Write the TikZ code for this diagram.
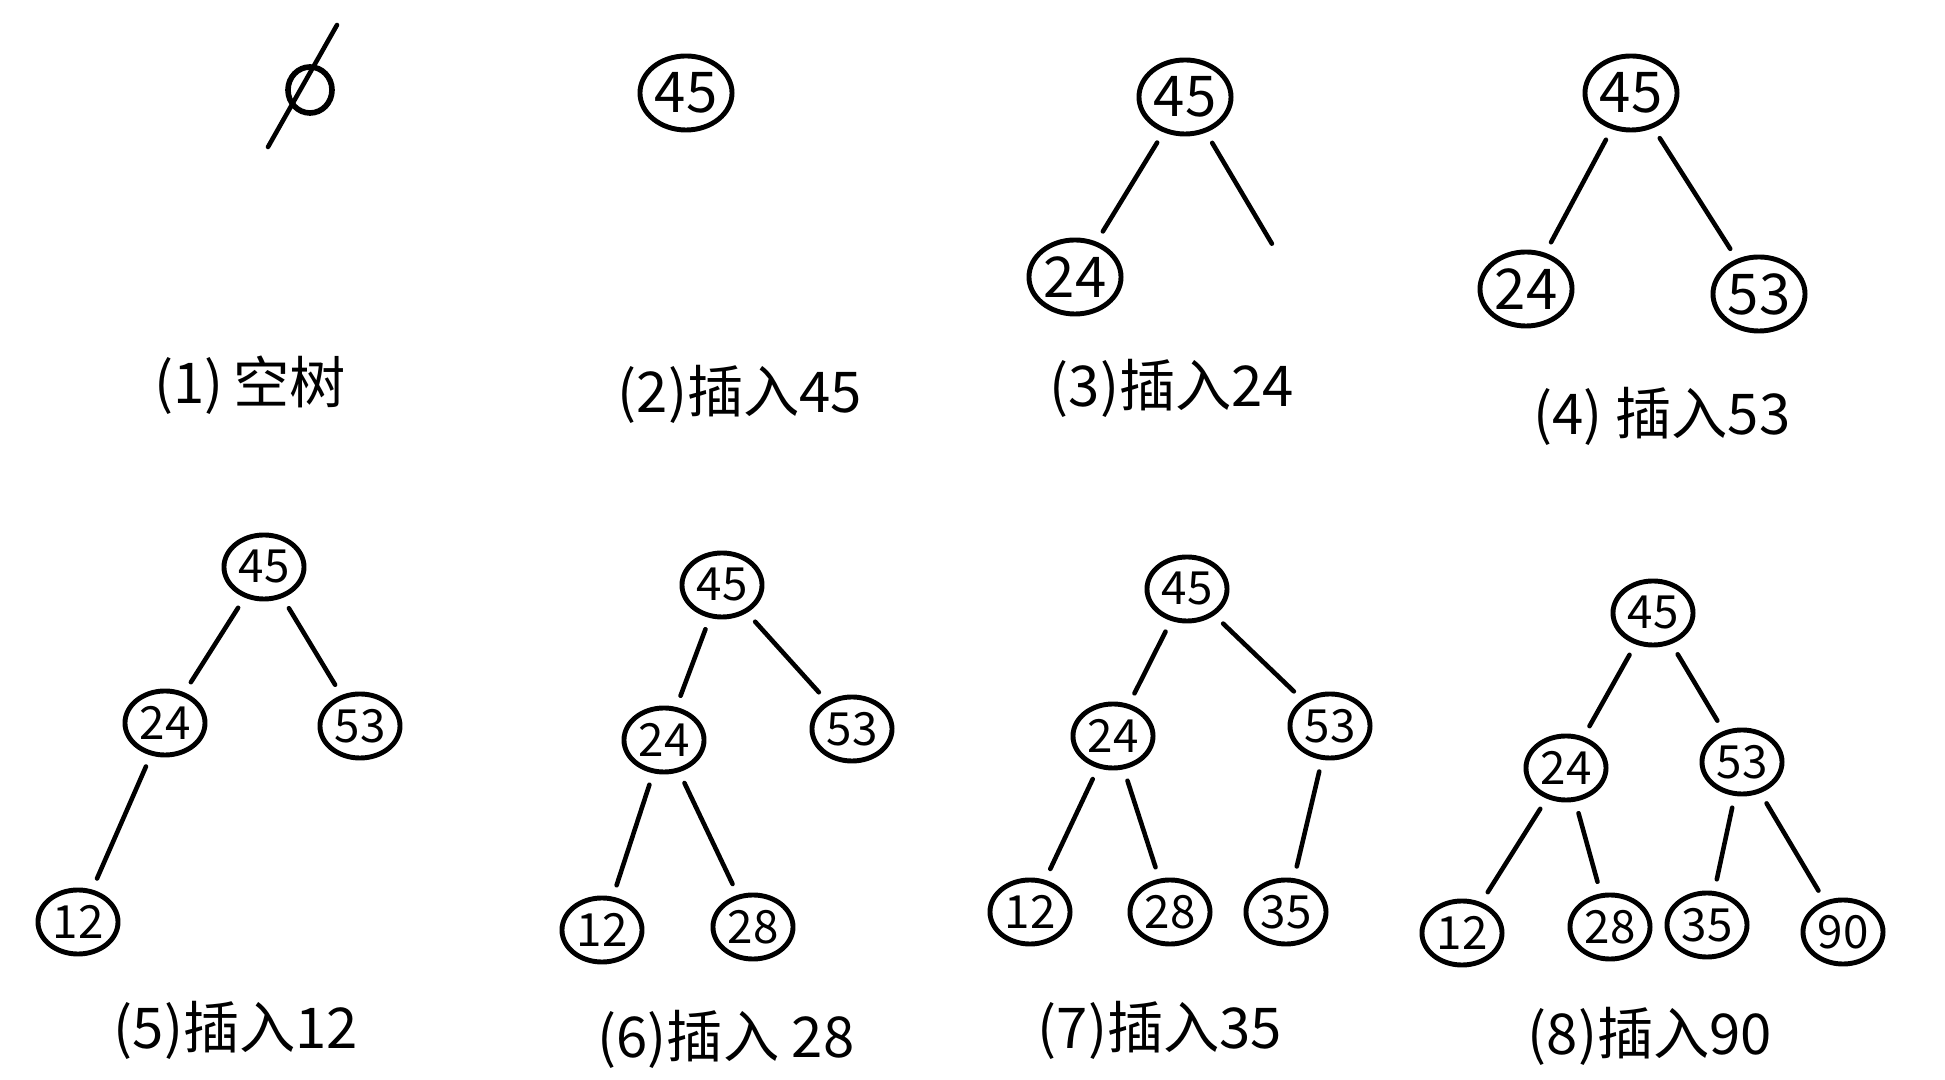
\documentclass[tikz,border=0pt]{standalone}
\usepackage{fontspec}
\newfontfamily\cjk{Noto Sans CJK SC}
\usepackage{tikz}
\usetikzlibrary{shapes.geometric}
\tikzset{
  key/.style={draw, ellipse, line width=1.4pt, inner sep=0pt, minimum width=0.8cm, minimum height=0.64cm, font=\cjk\fontsize{13}{15}\selectfont},
  bigkey/.style={key, minimum width=0.92cm, minimum height=0.74cm, font=\cjk\fontsize{16}{18}\selectfont},
  br/.style={line width=1.3pt, line cap=round, shorten <=1.2mm, shorten >=1.2mm},
  caption/.style={font=\cjk\fontsize{16}{19}\selectfont, anchor=center}}

\begin{document}
\begin{tikzpicture}[x=0.01cm, y=-0.01cm]
  \useasboundingbox (0,0) rectangle (1945,1080);
  % (1) empty tree
  \node[draw, ellipse, line width=1.6pt, minimum width=0.44cm, minimum height=0.46cm, inner sep=0pt] (e0) at (310,90) {};
  \coordinate (s1) at (268,147); \coordinate (s2) at (337,25);
  \draw[line width=1.3pt, line cap=round] (s1) -- (s2);
  \node[caption] (l1) at (250,385) {(1)\,空树};
  % (2) insert 45
  \node[bigkey] (a45) at (686,93) {45};
  \node[caption] (l2) at (740,394) {(2)插入45};
  % (3) insert 24
  \node[bigkey] (b45) at (1185,97) {45};
  \node[bigkey] (b24) at (1075,277) {24};
  \coordinate (bR) at (1278,254);
  \node[caption] (l3) at (1172,388) {(3)插入24};
  \draw[br] (b45) -- (b24); \draw[br] (b45) -- (bR);
  % (4) insert 53
  \node[bigkey] (c45) at (1631,93) {45};
  \node[bigkey] (c24) at (1526,289) {24};
  \node[bigkey] (c53) at (1759,294) {53};
  \node[caption] (l4) at (1662,416) {(4) 插入53};
  \draw[br] (c45) -- (c24); \draw[br] (c45) -- (c53);
  % (5) insert 12
  \node[key] (d45) at (264,567) {45};
  \node[key] (d24) at (165,723) {24};
  \node[key] (d53) at (360,726) {53};
  \node[key] (d12) at (78,922) {12};
  \node[caption] (l5) at (236,1030) {(5)插入12};
  \draw[br] (d45) -- (d24); \draw[br] (d45) -- (d53); \draw[br] (d24) -- (d12);
  % (6) insert 28
  \node[key] (f45) at (722,585) {45};
  \node[key] (f24) at (664,740) {24};
  \node[key] (f53) at (852,729) {53};
  \node[key] (f12) at (602,930) {12};
  \node[key] (f28) at (753,927) {28};
  \node[caption] (l6) at (726,1039) {(6)插入 28};
  \draw[br] (f45) -- (f24); \draw[br] (f45) -- (f53); \draw[br] (f24) -- (f12); \draw[br] (f24) -- (f28);
  % (7) insert 35
  \node[key] (g45) at (1187,589) {45};
  \node[key] (g24) at (1113,736) {24};
  \node[key] (g53) at (1330,726) {53};
  \node[key] (g12) at (1030,912) {12};
  \node[key] (g28) at (1170,912) {28};
  \node[key] (g35) at (1286,912) {35};
  \node[caption] (l7) at (1160,1030) {(7)插入35};
  \draw[br] (g45) -- (g24); \draw[br] (g45) -- (g53); \draw[br] (g24) -- (g12); \draw[br] (g24) -- (g28);
  \draw[br] (g53) -- (g35);
  % (8) insert 90
  \node[key] (h45) at (1653,613) {45};
  \node[key] (h24) at (1566,768) {24};
  \node[key] (h53) at (1742,762) {53};
  \node[key] (h12) at (1462,933) {12};
  \node[key] (h28) at (1610,927) {28};
  \node[key] (h35) at (1707,925) {35};
  \node[key] (h90) at (1843,932) {90};
  \node[caption] (l8) at (1650,1036) {(8)插入90};
  \draw[br] (h45) -- (h24); \draw[br] (h45) -- (h53); \draw[br] (h24) -- (h12); \draw[br] (h24) -- (h28);
  \draw[br] (h53) -- (h35); \draw[br] (h53) -- (h90);
\end{tikzpicture}
\end{document}
